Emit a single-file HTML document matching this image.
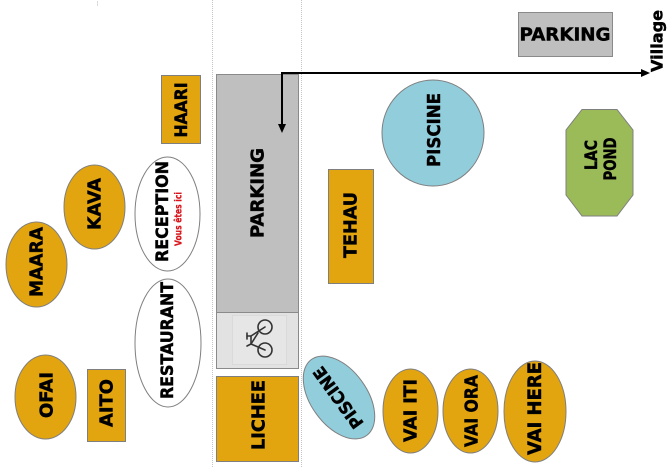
<!DOCTYPE html>
<html>
<head>
<meta charset="utf-8">
<style>
html,body{margin:0;padding:0;background:#fff;}
svg{display:block;}
text{font-family:"DejaVu Sans","Liberation Sans",sans-serif;font-weight:bold;fill:#000;stroke:#000;stroke-width:0.45px;}
</style>
</head>
<body>
<svg width="670" height="467" viewBox="0 0 670 467" xmlns="http://www.w3.org/2000/svg">
  <!-- dotted guide lines -->
  <line x1="212.5" y1="0" x2="212.5" y2="467" stroke="#c4c4c4" stroke-width="1" stroke-dasharray="1,1"/>
  <line x1="301.5" y1="0" x2="301.5" y2="467" stroke="#c4c4c4" stroke-width="1" stroke-dasharray="1,1"/>
  <line x1="97.5" y1="1" x2="97.5" y2="6" stroke="#dcdcdc" stroke-width="1"/>

  <!-- big parking -->
  <rect x="216.5" y="74.5" width="82" height="294" fill="#BFBFBF" stroke="#8a8a8a" stroke-width="1"/>
  <rect x="216.5" y="312.5" width="82" height="56" fill="#E2E2E2" stroke="#8a8a8a" stroke-width="1"/>
  <rect x="232.5" y="315.5" width="54" height="49" fill="#E6E6E6" stroke="#cfcfcf" stroke-width="1" stroke-dasharray="1,1"/>
  <!-- bicycle (rotated) -->
  <g fill="none" stroke="#333" stroke-width="1.6" stroke-linecap="round">
    <circle cx="265" cy="327" r="7"/>
    <circle cx="265" cy="350" r="7"/>
    <polyline points="265,327 251,336 251,344 265,350"/>
    <line x1="251" y1="344" x2="258" y2="333"/>
    <line x1="251" y1="336" x2="247" y2="336"/>
    <line x1="247" y1="333" x2="247" y2="339"/>
    <line x1="251" y1="344" x2="247" y2="346"/>
  </g>
  <text x="258" y="193" font-size="18" text-anchor="middle" dominant-baseline="central" transform="rotate(-90 258 193)" textLength="90" lengthAdjust="spacingAndGlyphs">PARKING</text>

  <!-- arrow -->
  <polyline points="282,126 282,73 644,73" fill="none" stroke="#000" stroke-width="2"/>
  <polygon points="278,124 286,124 282,133" fill="#000"/>
  <polygon points="641,69 641,77 650,73" fill="#000"/>
  <text x="657" y="41" font-size="16" text-anchor="middle" dominant-baseline="central" transform="rotate(-90 657 41)" textLength="62" lengthAdjust="spacingAndGlyphs">Village</text>

  <!-- top parking -->
  <rect x="518.5" y="12.5" width="94" height="44" fill="#BFBFBF" stroke="#8a8a8a" stroke-width="1"/>
  <text x="565" y="35" font-size="18" text-anchor="middle" dominant-baseline="central" textLength="91" lengthAdjust="spacingAndGlyphs">PARKING</text>

  <!-- HAARI -->
  <rect x="161.5" y="75.5" width="39" height="68" fill="#E2A40F" stroke="#7f7f7f" stroke-width="1"/>
  <text x="182" y="110" font-size="17" text-anchor="middle" dominant-baseline="central" transform="rotate(-90 182 110)" textLength="55" lengthAdjust="spacingAndGlyphs">HAARI</text>

  <!-- PISCINE big -->
  <ellipse cx="433" cy="133" rx="51" ry="53" fill="#92CDDC" stroke="#7f7f7f" stroke-width="1"/>
  <text x="435" y="130" font-size="17.5" text-anchor="middle" dominant-baseline="central" transform="rotate(-90 435 130)" textLength="74" lengthAdjust="spacingAndGlyphs">PISCINE</text>

  <!-- LAC POND -->
  <polygon points="582,109.5 617,109.5 633,130 633,195 617,216 582,216 566,195 566,130" fill="#9BBB59" stroke="#7f7f7f" stroke-width="1"/>
  <text x="592" y="155" font-size="17" text-anchor="middle" dominant-baseline="central" transform="rotate(-90 592 155)" textLength="30" lengthAdjust="spacingAndGlyphs">LAC</text>
  <text x="611" y="159" font-size="17" text-anchor="middle" dominant-baseline="central" transform="rotate(-90 611 159)" textLength="43" lengthAdjust="spacingAndGlyphs">POND</text>

  <!-- TEHAU -->
  <rect x="328.5" y="169.5" width="45" height="114" fill="#E2A40F" stroke="#7f7f7f" stroke-width="1"/>
  <text x="351" y="225" font-size="18" text-anchor="middle" dominant-baseline="central" transform="rotate(-90 351 225)" textLength="66" lengthAdjust="spacingAndGlyphs">TEHAU</text>

  <!-- KAVA -->
  <ellipse cx="94.5" cy="207" rx="30.5" ry="42" fill="#E2A40F" stroke="#7f7f7f" stroke-width="1"/>
  <text x="95" y="204" font-size="18" text-anchor="middle" dominant-baseline="central" transform="rotate(-90 95 204)" textLength="52" lengthAdjust="spacingAndGlyphs">KAVA</text>

  <!-- MAARA -->
  <ellipse cx="36.5" cy="264.5" rx="30.5" ry="42.5" fill="#E2A40F" stroke="#7f7f7f" stroke-width="1"/>
  <text x="37" y="262" font-size="18" text-anchor="middle" dominant-baseline="central" transform="rotate(-90 37 262)" textLength="70" lengthAdjust="spacingAndGlyphs">MAARA</text>

  <!-- RECEPTION -->
  <ellipse cx="167.5" cy="214" rx="32.5" ry="57" fill="#fff" stroke="#7f7f7f" stroke-width="1"/>
  <text x="163" y="211.5" font-size="17" text-anchor="middle" dominant-baseline="central" transform="rotate(-90 163 211.5)" textLength="101" lengthAdjust="spacingAndGlyphs">RECEPTION</text>
  <text x="179" y="219" font-size="10" text-anchor="middle" dominant-baseline="central" transform="rotate(-90 179 219)" textLength="54" lengthAdjust="spacingAndGlyphs" style="fill:#D8141B;stroke:#D8141B;stroke-width:0.2px">Vous êtes ici</text>

  <!-- RESTAURANT -->
  <ellipse cx="168" cy="343" rx="33" ry="64" fill="#fff" stroke="#7f7f7f" stroke-width="1"/>
  <text x="168" y="340.5" font-size="17" text-anchor="middle" dominant-baseline="central" transform="rotate(-90 168 340.5)" textLength="117" lengthAdjust="spacingAndGlyphs">RESTAURANT</text>

  <!-- OFAI -->
  <ellipse cx="45.5" cy="397" rx="30.5" ry="42" fill="#E2A40F" stroke="#7f7f7f" stroke-width="1"/>
  <text x="47" y="395" font-size="18" text-anchor="middle" dominant-baseline="central" transform="rotate(-90 47 395)" textLength="46" lengthAdjust="spacingAndGlyphs">OFAI</text>

  <!-- AITO -->
  <rect x="87.5" y="369.5" width="38" height="72" fill="#E2A40F" stroke="#7f7f7f" stroke-width="1"/>
  <text x="107" y="403" font-size="18" text-anchor="middle" dominant-baseline="central" transform="rotate(-90 107 403)" textLength="48" lengthAdjust="spacingAndGlyphs">AITO</text>

  <!-- LICHEE -->
  <rect x="216.5" y="376.5" width="82" height="85" fill="#E2A40F" stroke="#7f7f7f" stroke-width="1"/>
  <text x="259" y="415" font-size="18" text-anchor="middle" dominant-baseline="central" transform="rotate(-90 259 415)" textLength="70" lengthAdjust="spacingAndGlyphs">LICHEE</text>

  <!-- small PISCINE rotated -->
  <ellipse cx="339" cy="397.5" rx="47" ry="28" fill="#92CDDC" stroke="#7f7f7f" stroke-width="1" transform="rotate(54 339 397.5)"/>
  <text x="339" y="397" font-size="17" text-anchor="middle" dominant-baseline="central" transform="rotate(-126 339 397)" textLength="72" lengthAdjust="spacingAndGlyphs">PISCINE</text>

  <!-- VAI ITI -->
  <ellipse cx="410.5" cy="411" rx="27.5" ry="42" fill="#E2A40F" stroke="#7f7f7f" stroke-width="1"/>
  <text x="411" y="410.5" font-size="18" text-anchor="middle" dominant-baseline="central" transform="rotate(-90 411 410.5)" textLength="63" lengthAdjust="spacingAndGlyphs">VAI ITI</text>

  <!-- VAI ORA -->
  <ellipse cx="470.5" cy="411" rx="27.5" ry="42" fill="#E2A40F" stroke="#7f7f7f" stroke-width="1"/>
  <text x="472" y="411" font-size="18" text-anchor="middle" dominant-baseline="central" transform="rotate(-90 472 411)" textLength="72" lengthAdjust="spacingAndGlyphs">VAI ORA</text>

  <!-- VAI HERE -->
  <ellipse cx="535" cy="411.5" rx="31" ry="50.5" fill="#E2A40F" stroke="#7f7f7f" stroke-width="1"/>
  <text x="535" y="408.5" font-size="19" text-anchor="middle" dominant-baseline="central" transform="rotate(-90 535 408.5)" textLength="93" lengthAdjust="spacingAndGlyphs">VAI HERE</text>
</svg>
</body>
</html>
